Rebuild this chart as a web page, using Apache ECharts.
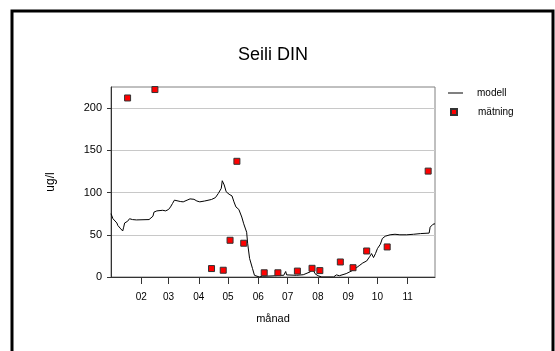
<!DOCTYPE html>
<html>
<head>
<meta charset="utf-8">
<script src="https://cdn.jsdelivr.net/npm/echarts@6/dist/echarts.min.js"></script>
<style>
  html, body { margin: 0; padding: 0; background: #fff; }
  #chart { width: 555px; height: 351px; }
</style>
</head>
<body>
<div id="chart"></div>
<script>
// Simulated DIN (model) at Seili, ug/l
const modelDates = [
  '2005-01-01','2005-01-03','2005-01-05','2005-01-07','2005-01-08','2005-01-10','2005-01-11',
  '2005-01-13','2005-01-14','2005-01-15','2005-01-17','2005-01-18','2005-01-20','2005-01-21',
  '2005-01-23','2005-01-27','2005-02-09','2005-02-13','2005-02-14','2005-02-17','2005-02-19',
  '2005-02-23','2005-02-26','2005-03-01','2005-03-03','2005-03-05','2005-03-07','2005-03-09',
  '2005-03-13','2005-03-16','2005-03-20','2005-03-23','2005-03-27','2005-03-30','2005-04-02',
  '2005-04-07','2005-04-14','2005-04-18','2005-04-21','2005-04-24','2005-04-25','2005-04-27',
  '2005-04-29','2005-05-02','2005-05-05','2005-05-07','2005-05-09','2005-05-12','2005-05-15',
  '2005-05-17','2005-05-20','2005-05-21','2005-05-23','2005-05-26','2005-05-28','2005-05-30',
  '2005-06-02','2005-06-05','2005-06-09','2005-06-16','2005-06-23','2005-06-27','2005-06-29',
  '2005-06-30','2005-07-10','2005-07-17','2005-07-24','2005-07-27','2005-07-29','2005-08-01',
  '2005-08-05','2005-08-17','2005-08-20','2005-08-23','2005-08-30','2005-09-06','2005-09-13',
  '2005-09-16','2005-09-20','2005-09-23','2005-09-25','2005-09-27','2005-09-28','2005-09-29',
  '2005-10-01','2005-10-04','2005-10-06','2005-10-09','2005-10-14','2005-10-19','2005-10-24',
  '2005-10-31','2005-11-07','2005-11-14','2005-11-23','2005-11-24','2005-11-27','2005-11-29'
];
const modelValues = [
  75, 69, 68, 64, 61, 60, 57,
  54.5, 59, 64, 63, 66, 69, 70,
  68, 67.6, 68, 72, 76.8, 78.3, 77.6,
  79, 78.3, 80, 83, 87, 91, 90,
  89.4, 89, 91, 92.5, 92, 90, 89,
  90, 91.8, 94, 99, 105, 114, 109,
  101, 98, 96, 89, 83, 80, 71,
  63, 53, 40, 22, 10, 2, 0,
  0, 1, 1, 1.3, 2, 2, 6.5,
  2.5, 2, 2.7, 6, 9, 4, 1.5,
  0, 0, 2.5, 1.5, 4, 8, 14,
  16.6, 19, 24, 27.7, 23, 22, 27.7,
  33.6, 38.8, 45.5, 48.3, 50, 50.6, 50,
  50, 50.6, 51.4, 52, 59, 62.5, 63
];

// Measured DIN (mätning), ug/l
const sampleDates = [
  '2005-01-18','2005-02-15','2005-04-14','2005-04-26','2005-05-03','2005-05-10',
  '2005-05-17','2005-06-07','2005-06-21','2005-07-11','2005-07-26','2005-08-03',
  '2005-08-24','2005-09-06','2005-09-20','2005-10-11','2005-11-22'
];
const sampleValues = [
  212, 222, 10, 8, 43.5, 137,
  40, 5, 5, 7, 10.3, 7.6,
  17.8, 11, 30.8, 35.6, 125.4
];

// Month ticks
const tickDates = [
  '2005-02-01','2005-03-01','2005-04-01','2005-05-01','2005-06-01',
  '2005-07-01','2005-08-01','2005-09-01','2005-10-01','2005-11-01'
];
const tickLabels = ['02','03','04','05','06','07','08','09','10','11'];
const yTicks = [0, 50, 100, 150, 200];
const startDate = '2005-01-01';
const endDate = '2005-11-29';

// Dates become day numbers counted from the first of January
const DAY = 86400000;
const t0 = Date.UTC(2005, 0, 1);
const toDay = s => {
  const p = s.split('-').map(Number);
  return Math.round((Date.UTC(p[0], p[1] - 1, p[2]) - t0) / DAY);
};
const tickDays = tickDates.map(toDay);

const FONT = 'Liberation Sans, Arial, sans-serif';
const chart = echarts.init(document.getElementById('chart'), null, { renderer: 'canvas' });

chart.setOption({
  animation: false,
  backgroundColor: '#fff',
  textStyle: { fontFamily: FONT, color: '#000' },
  graphic: [{
    type: 'rect',
    shape: { x: 12, y: 11, width: 541, height: 400 },
    style: { fill: 'none', stroke: '#000', lineWidth: 3 },
    silent: true
  }],
  title: {
    text: 'Seili DIN',
    left: 238,
    top: 46,
    padding: 0,
    textStyle: { fontFamily: FONT, fontSize: 18, fontWeight: 'normal', color: '#000' }
  },
  legend: [{
    data: [{ name: 'modell', icon: 'rect' }],
    orient: 'vertical',
    left: 448,
    top: 88,
    padding: 0,
    itemWidth: 15,
    itemHeight: 1,
    itemStyle: { color: '#000', borderWidth: 0 },
    lineStyle: { color: '#000', width: 1 },
    textStyle: { fontFamily: FONT, fontSize: 10, color: '#000', padding: [0, 0, 0, 9] }
  }, {
    data: [{ name: 'mätning', icon: 'rect' }],
    orient: 'vertical',
    left: 450,
    top: 107,
    padding: 0,
    itemWidth: 6,
    itemHeight: 6,
    textStyle: { fontFamily: FONT, fontSize: 10, color: '#000', padding: [0, 0, 0, 16] }
  }],
  grid: {
    left: 111, top: 87, width: 324, height: 190,
    show: true, borderColor: '#808080', borderWidth: 1, backgroundColor: 'transparent'
  },
  xAxis: {
    type: 'value',
    min: toDay(startDate),
    max: toDay(endDate),
    name: 'månad',
    nameLocation: 'middle',
    nameGap: 36,
    nameTextStyle: { fontFamily: FONT, fontSize: 11, color: '#000' },
    axisLine: { show: true, lineStyle: { color: '#333', width: 1 } },
    axisTick: { show: true, length: 7, inside: false, customValues: tickDays, lineStyle: { color: '#333' } },
    axisLabel: {
      customValues: tickDays,
      margin: 15,
      fontFamily: FONT, fontSize: 10, color: '#000',
      formatter: function (val) {
        const i = tickDays.indexOf(val);
        return i >= 0 ? tickLabels[i] : '';
      }
    },
    splitLine: { show: false }
  },
  yAxis: {
    type: 'value',
    min: 0,
    max: 225,
    interval: 50,
    name: 'ug/l',
    nameLocation: 'middle',
    nameGap: 54,
    nameTextStyle: { fontFamily: FONT, fontSize: 12, color: '#000' },
    axisLine: { show: true, lineStyle: { color: '#333', width: 1 } },
    axisTick: { show: true, length: 4, inside: false, customValues: yTicks, lineStyle: { color: '#333' } },
    axisLabel: { customValues: yTicks, margin: 9, fontFamily: FONT, fontSize: 11, color: '#000' },
    splitLine: { show: true, lineStyle: { color: '#c8c8c8', width: 1 } }
  },
  series: [{
    name: 'modell',
    type: 'line',
    symbol: 'none',
    data: modelDates.map((d, i) => [toDay(d), modelValues[i]]),
    lineStyle: { color: '#000', width: 1 },
    itemStyle: { color: '#000' },
    z: 2
  }, {
    name: 'mätning',
    type: 'scatter',
    symbol: 'rect',
    symbolSize: 6,
    data: sampleDates.map((d, i) => [toDay(d), sampleValues[i]]),
    itemStyle: { color: '#ff0000', borderColor: '#333', borderWidth: 1, opacity: 1 },
    clip: false,
    z: 3
  }]
});
</script>
</body>
</html>
